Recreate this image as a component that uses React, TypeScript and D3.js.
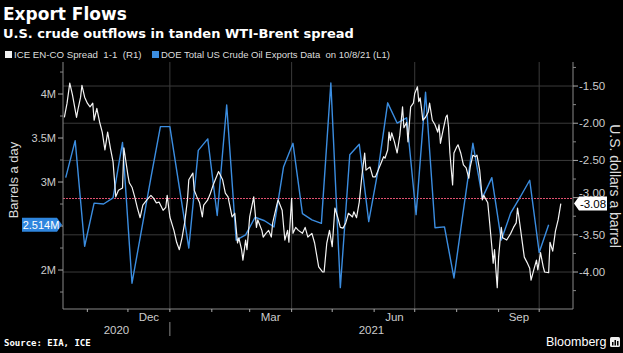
import React from 'react'
import * as d3 from 'd3'

const width = 623
const height = 353
const plot = { left: 63, right: 573, top: 62, bottom: 309 }

// DOE weekly crude exports (million bbl/day), week ending Fridays from 10/16/20
const exportStart = new Date(2020, 9, 16)
const exportValues = [
  3.05, 3.47, 2.27, 2.76, 2.75, 2.82, 3.45, 1.85, 2.45, 3.05,
  3.63, 3.63, 2.94, 2.25, 3.36, 3.49, 2.62, 3.875, 2.34, 2.4,
  2.6, 2.56, 2.49, 3.17, 3.44, 2.64, 2.57, 2.53, 4.125, 1.8,
  3.31, 3.43, 2.55, 3.14, 3.9, 3.67, 3.73, 2.63, 4.02, 2.48,
  2.49, 1.91, 2.68, 3.44, 2.82, 3.05, 2.34, 2.65, 2.83, 3.02,
  2.2, 2.514,
]

// ICE EN-CO spread 1-1 ($/bbl), days after 10/14/20
const spreadStart = new Date(2020, 9, 14)
const spreadDays = [
  1, 3, 5, 7, 10, 11, 13, 14, 16, 18, 20, 22, 23, 25, 27, 29, 31, 33, 35, 37,
  39, 41, 44, 45, 48, 49, 51, 53, 55, 57, 59, 62, 65, 67, 69, 71, 74, 76, 77, 79,
  82, 84, 86, 88, 90, 92, 93, 96, 97, 99, 101, 103, 104, 107, 109, 111, 115, 118, 120, 122,
  125, 127, 129, 130, 132, 133, 135, 136, 138, 141, 143, 144, 147, 148, 150, 152, 154, 155, 158, 159,
  162, 164, 166, 167, 169, 170, 172, 174, 177, 179, 181, 184, 186, 189, 192, 193, 195, 197, 199, 201,
  203, 205, 207, 209, 211, 214, 215, 217, 219, 221, 223, 224, 226, 227, 229, 231, 233, 235, 237, 238,
  240, 241, 242, 243, 245, 247, 249, 251, 252, 254, 255, 257, 259, 260, 262, 263, 264, 265, 266, 268,
  270, 271, 273, 275, 277, 278, 279, 281, 283, 284, 285, 286, 288, 289, 291, 292, 294, 296, 298, 300,
  301, 303, 305, 306, 308, 310, 311, 314, 315, 317, 318, 319, 320, 321, 322, 324, 325, 328, 329, 331,
  333, 335, 336, 337, 339, 341, 343, 345, 346, 348, 350, 351, 353, 355, 356, 359, 360, 362, 364, 366,
  368,
]
const spreadValues = [
  -1.92, -1.73, -1.46, -1.62, -1.92, -1.82, -1.65, -1.49, -1.65, -1.73, -1.78, -1.73, -1.96, -1.8, -1.98, -2.12, -2.36, -2.12, -2.33, -2.52,
  -2.99, -2.9, -2.87, -2.33, -2.7, -2.8, -2.86, -2.99, -3.14, -3.27, -3.1, -3.03, -2.97, -3.01, -3.07, -3.06, -3.17, -3.13, -2.97, -3.26,
  -3.44, -3.6, -3.7, -3.54, -3.33, -3.03, -2.76, -2.67, -2.9, -2.99, -3.07, -3.26, -3.1, -3.03, -2.94, -2.83, -2.65, -2.76, -2.94, -2.99,
  -3.26, -3.21, -3.61, -3.54, -3.7, -3.84, -3.57, -3.7, -3.26, -2.99, -3.4, -3.3, -3.44, -3.53, -3.48, -3.44, -3.53, -3.34, -3.1, -3.03,
  -3.17, -3.57, -3.44, -3.6, -3.01, -3.48, -3.4, -3.44, -3.48, -3.4, -3.53, -3.48, -3.61, -3.93, -4.0, -4.0, -3.61, -3.44, -3.66, -3.14,
  -3.26, -3.4, -3.41, -3.34, -3.21, -3.26, -3.19, -3.27, -3.06, -2.7, -2.4, -2.63, -2.6, -2.59, -2.72, -2.72, -2.63, -2.54, -2.45, -2.47,
  -2.36, -2.12, -2.23, -2.13, -2.25, -2.4, -2.16, -1.78, -2.06, -1.99, -2.25, -1.78, -1.73, -1.6, -1.51, -1.71, -1.66, -1.8, -1.96, -1.92,
  -1.85, -1.73, -1.96, -2.02, -2.12, -2.02, -2.27, -2.09, -1.92, -1.89, -2.05, -2.4, -2.83, -2.4, -2.32, -2.29, -2.4, -2.56, -2.6, -2.74,
  -2.59, -2.43, -2.45, -2.43, -2.63, -3.03, -2.97, -3.07, -3.26, -3.66, -3.88, -3.7, -3.97, -4.21, -3.8, -3.4, -3.54, -3.57, -3.54, -3.48,
  -3.4, -3.34, -3.14, -3.26, -3.53, -3.8, -3.87, -3.95, -4.11, -3.97, -3.84, -3.97, -3.74, -3.93, -4.0, -4.01, -3.6, -3.72, -3.45, -3.3,
  -3.08,
]

// 2.5M label sits under the last-value flag in the original, so it is left blank
const leftTicks = [2, 2.5, 3, 3.5, 4]
const leftTickLabels = ['2M', '', '3M', '3.5M', '4M']
const leftMinor = [1.75, 2.25, 2.75, 3.25, 3.75, 4.25]
const rightTicks = [-1.5, -2, -2.5, -3, -3.5, -4]
const rightMinor = [-1.25, -1.75, -2.25, -2.75, -3.25, -3.75, -4.25]
const monthNames = ['Dec', 'Mar', 'Jun', 'Sep']
const monthStarts = [new Date(2020, 11, 1), new Date(2021, 2, 1), new Date(2021, 5, 1), new Date(2021, 8, 1)]
const years = ['2020', '2021']
const legendLabels = ['ICE EN-CO Spread  1-1  (R1)', 'DOE Total US Crude Oil Exports Data  on 10/8/21 (L1)']
const lastExport = 2.514
const lastSpread = -3.08
const refLine = -3.0

const axisFont = 'Liberation Sans, Arial, sans-serif'
const fmt2 = (v: number) => d3.format('.2f')(v).replace('−', '-')

export default function App() {
  const x = d3.scaleTime()
    .domain([new Date(2020, 9, 14), new Date(2021, 9, 26)])
    .range([plot.left, plot.right])
  const yL = d3.scaleLinear().domain([1.557, 4.364]).range([plot.bottom, plot.top])
  const yR = d3.scaleLinear().domain([-4.497, -1.177]).range([plot.bottom, plot.top])

  const exportDates = exportValues.map((_, i) => d3.timeWeek.offset(exportStart, i))
  const exportLine = d3.line<number>()
    .x((_, i) => x(exportDates[i]))
    .y(d => yL(d))
  const spreadLine = d3.line<number>()
    .x((_, i) => x(d3.timeDay.offset(spreadStart, spreadDays[i])))
    .y(d => yR(d))

  const monthTicks = d3.timeMonth.range(new Date(2020, 10, 1), new Date(2021, 9, 2))
  const quarterLines = monthTicks.filter(d => d.getMonth() % 3 === 0)
  const jan1 = new Date(2021, 0, 1)

  const yl = yL(lastExport)
  const yr = yR(lastSpread)

  return (
    <div style={{ position: 'fixed', left: 0, top: 0 }}>
      <svg width={width} height={height} style={{ display: 'block', background: '#000' }}>
        <rect width={width} height={height} fill="#000" />

        {/* titles */}
        <text x={3} y={20} fill="#fff" fontFamily="DejaVu Sans, sans-serif" fontWeight="bold" fontSize={17}>Export Flows</text>
        <text x={3} y={38} fill="#fff" fontFamily="DejaVu Sans, sans-serif" fontWeight="bold" fontSize={13}>U.S. crude outflows in tanden WTI-Brent spread</text>

        {/* legend */}
        <rect x={5} y={51} width={7} height={7} fill="#f2f2f2" />
        <text x={14} y={58} fill="#ddd" fontFamily={axisFont} fontSize={9.7} style={{ whiteSpace: 'pre' }}>{legendLabels[0]}</text>
        <rect x={152} y={51} width={7} height={7} fill="#3b8de0" />
        <text x={161} y={58} fill="#ddd" fontFamily={axisFont} fontSize={9.5} style={{ whiteSpace: 'pre' }}>{legendLabels[1]}</text>

        {/* grid */}
        {rightTicks.filter(t => t !== refLine).map(t => (
          <line key={'h' + t} x1={plot.left} x2={plot.right} y1={yR(t)} y2={yR(t)} stroke="#3a3a3a" strokeWidth={1} />
        ))}
        {quarterLines.map(d => (
          <line key={'v' + d.getTime()} x1={x(d)} x2={x(d)} y1={plot.top} y2={plot.bottom} stroke="#3a3a3a" strokeWidth={1} />
        ))}
        <line x1={plot.left} x2={plot.right} y1={Math.round(yR(refLine)) + 0.5} y2={Math.round(yR(refLine)) + 0.5} stroke="#e0506f" strokeWidth={1} strokeDasharray="2,1" />

        {/* series */}
        <path d={exportLine(exportValues) || ''} fill="none" stroke="#3b8de0" strokeWidth={1.4} strokeLinejoin="round" />
        <path d={spreadLine(spreadValues) || ''} fill="none" stroke="#f4f4f4" strokeWidth={1.2} strokeLinejoin="round" />

        {/* axes frame */}
        <line x1={plot.left} x2={plot.left} y1={plot.top} y2={plot.bottom} stroke="#888" />
        <line x1={plot.right} x2={plot.right} y1={plot.top} y2={plot.bottom} stroke="#888" />
        <line x1={plot.left} x2={plot.right} y1={plot.bottom} y2={plot.bottom} stroke="#888" />

        {/* left axis */}
        {leftTicks.map((t, i) => (
          <g key={'l' + t}>
            <line x1={plot.left - 5} x2={plot.left} y1={yL(t)} y2={yL(t)} stroke="#aaa" />
            {leftTickLabels[i] && (
              <text x={plot.left - 7} y={yL(t) + 4} textAnchor="end" fill="#ccc" fontFamily={axisFont} fontSize={11}>{leftTickLabels[i]}</text>
            )}
          </g>
        ))}
        {leftMinor.map(t => (
          <line key={'lm' + t} x1={plot.left - 3} x2={plot.left} y1={yL(t)} y2={yL(t)} stroke="#888" />
        ))}
        <text transform="translate(18,180) rotate(-90)" textAnchor="middle" fill="#ddd" fontFamily={axisFont} fontSize={13}>Barrels a day</text>

        {/* right axis */}
        {rightTicks.map(t => (
          <g key={'r' + t}>
            <line x1={plot.right} x2={plot.right + 5} y1={yR(t)} y2={yR(t)} stroke="#aaa" />
            <text x={plot.right + 6} y={yR(t) + (t === refLine ? -1 : 4)} fill="#ccc" fontFamily={axisFont} fontSize={11.5}>{fmt2(t)}</text>
          </g>
        ))}
        {rightMinor.map(t => (
          <line key={'rm' + t} x1={plot.right} x2={plot.right + 3} y1={yR(t)} y2={yR(t)} stroke="#888" />
        ))}
        <text transform="translate(610,186) rotate(90)" textAnchor="middle" fill="#ddd" fontFamily={axisFont} fontSize={14}>U.S. dollars a barrel</text>

        {/* last value flags */}
        <path d={`M22,${yl - 7} H57 L62,${yl} L57,${yl + 7} H22 Z`} fill="#2f86de" />
        <text x={41} y={yl + 4} textAnchor="middle" fill="#fff" fontFamily={axisFont} fontSize={11}>{d3.format('.3f')(lastExport)}M</text>
        <path d={`M574,${yr} L579,${yr - 7} H607 V${yr + 7} H579 Z`} fill="#fff" />
        <text x={593} y={yr + 4} textAnchor="middle" fill="#000" fontFamily={axisFont} fontSize={11.5}>{fmt2(lastSpread)}</text>

        {/* bottom axis */}
        {monthTicks.map(d => (
          <line key={'m' + d.getTime()} x1={x(d)} x2={x(d)} y1={plot.bottom} y2={plot.bottom + 3} stroke="#aaa" />
        ))}
        {monthStarts.map((d, i) => (
          <text key={'ml' + i} x={(x(d) + x(d3.timeMonth.offset(d, 1))) / 2} y={321} textAnchor="middle" fill="#ccc" fontFamily={axisFont} fontSize={11.5}>{monthNames[i]}</text>
        ))}
        <line x1={x(jan1)} x2={x(jan1)} y1={322} y2={336} stroke="#888" />
        <text x={(plot.left + x(jan1)) / 2} y={334} textAnchor="middle" fill="#ccc" fontFamily={axisFont} fontSize={11.5}>{years[0]}</text>
        <text x={(x(jan1) + plot.right) / 2} y={334} textAnchor="middle" fill="#ccc" fontFamily={axisFont} fontSize={11.5}>{years[1]}</text>

        {/* footer */}
        <text x={4} y={346} fill="#fff" fontFamily="DejaVu Sans Mono, monospace" fontWeight="bold" fontSize={9}>Source: EIA, ICE</text>
        <text x={546} y={346} fill="#fff" fontFamily={axisFont} fontSize={12.5}>Bloomberg</text>
        <rect x={610} y={337} width={10} height={10} rx={1.5} fill="#eee" />
        <rect x={612} y={342} width={1.5} height={3.5} fill="#000" />
        <rect x={614.5} y={340} width={1.5} height={5.5} fill="#000" />
        <rect x={617} y={341} width={1.5} height={4.5} fill="#000" />
      </svg>
    </div>
  )
}
